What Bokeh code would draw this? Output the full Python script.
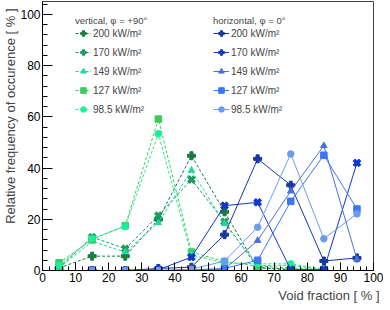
import numpy as np
from bokeh.plotting import figure
from bokeh.models import Range1d, Legend, LegendItem, Title, FixedTicker
from bokeh.embed import file_html
from bokeh.resources import INLINE

# ---- data ----
x_vert = [5, 15, 25, 35, 45, 55, 65, 75, 85]
v200 = [1.0, 5.6, 5.6, 19.9, 44.8, 22.9, 1.0, 0.3, 0.2]
v170 = [1.1, 13.0, 8.5, 21.4, 35.5, 19.0, 1.2, 0.5, 0.2]
v149 = [1.0, 11.4, 7.2, 18.6, 39.1, 18.3, 2.0, 2.0, 0.3]
v127 = [3.0, 12.1, 17.5, 59.1, 7.2, 3.5, 1.7, 1.0, 0.3]
v985 = [2.0, 12.5, 17.2, 53.4, 6.0, 3.0, 2.6, 2.6, 0.5]

x_hor = [15, 25, 35, 45, 55, 65, 75, 85, 95]
h200 = [0.0, 0.0, 0.8, 1.3, 14.0, 43.6, 33.3, 3.7, 4.9]
h170 = [0.0, 0.0, 0.3, 5.2, 25.3, 26.6, 0.3, 0.3, 42.0]
h149 = [0.0, 0.0, 0.0, 0.2, 0.5, 11.7, 31.0, 48.7, 4.3]
h127 = [0.0, 0.0, 0.0, 0.2, 0.8, 4.0, 27.0, 45.0, 24.0]
h985 = [0.0, 0.0, 0.0, 0.5, 3.7, 16.9, 45.5, 12.4, 22.1]

labels = ["200 kW/m²", "170 kW/m²", "149 kW/m²", "127 kW/m²", "98.5 kW/m²"]
x_ticks = [0, 10, 20, 30, 40, 50, 60, 70, 80, 90, 100]
y_ticks = [0, 20, 40, 60, 80, 100]

vert_colors = ["#1a7a40", "#1c9a60", "#22d8a0", "#3ccc5c", "#1aee99"]
hor_colors = ["#17399c", "#1035d0", "#4a6fdd", "#3a78f5", "#6b9cf0"]
markers = [("plus", 0.0), ("plus", np.pi / 4), ("triangle", 0.0), ("square", 0.0), ("circle", 0.0)]
msizes = [8, 8, 6.5, 6.5, 6.5]

FONT = "Liberation Sans"

p = figure(frame_width=331, frame_height=269, output_backend="svg", toolbar_location=None,
           x_range=Range1d(0, 100), y_range=Range1d(0, 105),
           min_border_left=39, min_border_right=10, min_border_top=1, min_border_bottom=32)
p.xgrid.visible = False
p.ygrid.visible = False
p.outline_line_color = "#444444"
p.outline_line_width = 1
p.background_fill_color = "white"
p.border_fill_color = "white"

for ax, ticks, minor, tin in ((p.xaxis, x_ticks, list(range(0, 101, 2)), 8),
                              (p.yaxis, y_ticks, list(range(0, 105, 4)), 10)):
    ax.ticker = FixedTicker(ticks=ticks, minor_ticks=minor)
    ax.major_tick_in = tin
    ax.major_tick_out = 0
    ax.minor_tick_in = tin // 2
    ax.minor_tick_out = 0
    ax.axis_line_color = "black"
    ax.major_tick_line_color = "black"
    ax.minor_tick_line_color = "black"
    ax.major_label_text_font = FONT
    ax.major_label_text_font_size = "12px"
    ax.major_label_text_color = "black"
p.xaxis.major_label_standoff = 2
p.yaxis.major_label_standoff = 2

vert_items = []
hor_items = []
sets_v = [v200, v170, v149, v127, v985]
sets_h = [h200, h170, h149, h127, h985]

for i in range(5):
    ln = p.line(x_vert, sets_v[i], line_color=vert_colors[i], line_width=1, line_dash="3 2")
    mk, ang = markers[i]
    sc = p.scatter(x_vert, sets_v[i], marker=mk, angle=ang, size=msizes[i],
                   fill_color=vert_colors[i], line_color=vert_colors[i])
    vert_items.append(LegendItem(label=labels[i], renderers=[ln, sc]))

for i in range(5):
    ln = p.line(x_hor, sets_h[i], line_color=hor_colors[i], line_width=1)
    mk, ang = markers[i]
    sc = p.scatter(x_hor, sets_h[i], marker=mk, angle=ang, size=msizes[i],
                   fill_color=hor_colors[i], line_color=hor_colors[i])
    hor_items.append(LegendItem(label=labels[i], renderers=[ln, sc]))


def make_legend(items, title, loc):
    lg = Legend(items=items, title=title, location=loc, padding=0, margin=0,
                spacing=5, glyph_width=16, glyph_height=14, label_height=14,
                label_standoff=2, label_text_font=FONT, label_text_font_size="10px",
                label_text_baseline="middle",
                title_text_font=FONT, title_text_font_size="9.5px",
                title_text_font_style="normal", title_standoff=0,
                background_fill_alpha=0, border_line_alpha=0)
    return lg

p.add_layout(make_legend(vert_items, "vertical, φ = +90°", (33, 154)))
p.add_layout(make_legend(hor_items, "horizontal, φ = 0°", (171, 154)))

p.add_layout(Title(text="Void fraction [ % ]", align="right", text_font=FONT,
                   text_font_size="13px", text_font_style="normal", standoff=2,
                   offset=-6), "below")
p.add_layout(Title(text="Relative frequency of occurence [ % ]", align="right", text_font=FONT,
                   text_font_size="13px", text_font_style="normal", standoff=0,
                   offset=7), "left")

open("out.html", "w").write(file_html(p, INLINE))
